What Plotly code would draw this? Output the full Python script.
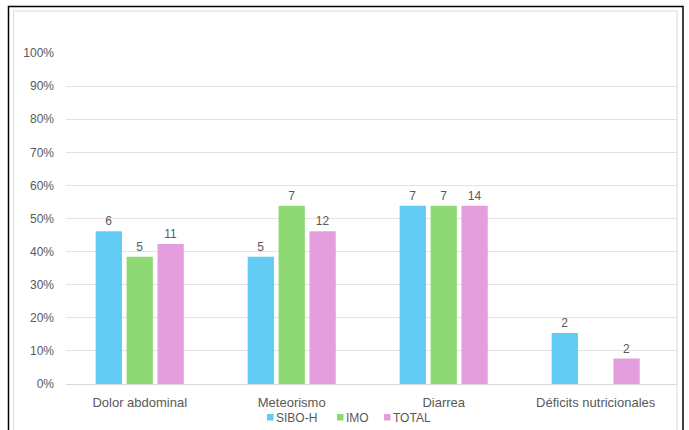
import plotly.graph_objects as go

# Symptoms and patient counts per group
categories = ["Dolor abdominal", "Meteorismo", "Diarrea", "Déficits nutricionales"]
groups = ["SIBO-H", "IMO", "TOTAL"]
group_sizes = [13, 13, 26]
sibo_counts = [6, 5, 7, 2]
imo_counts = [5, 7, 7, 0]
total_counts = [11, 12, 14, 2]
colors = ["#61CBF3", "#8ED973", "#E49EDD"]

y_ticks = [i / 10 for i in range(11)]
y_tick_labels = [f"{i * 10}%" for i in range(11)]

W, H = 689, 430
L, R, T, B = 66, 12, 53, 46
GREY = "#595959"

fig = go.Figure()
for name, counts, n, col in zip(groups, [sibo_counts, imo_counts, total_counts], group_sizes, colors):
    fig.add_trace(go.Bar(
        name=name,
        x=categories,
        y=[c / n for c in counts],
        text=[str(c) if c else "" for c in counts],
        textposition="outside",
        textfont=dict(size=12, color=GREY),
        cliponaxis=False,
        marker=dict(color=col, line=dict(width=0)),
        showlegend=False,
    ))

pw = W - L - R
ph = H - T - B


def px_x(x):
    return (x - L) / pw


def px_y(y):
    return (H - B - y) / ph


# Compact legend row below the category labels: small square key + series name
legend_key_x = [267, 337, 384]
legend_y = 417.5
shapes = []
annotations = []
for name, col, kx in zip(groups, colors, legend_key_x):
    shapes.append(dict(type="rect", xref="paper", yref="paper",
                       x0=px_x(kx), x1=px_x(kx + 6.5), y0=px_y(legend_y + 3), y1=px_y(legend_y - 3.5),
                       fillcolor=col, line=dict(width=0)))
    annotations.append(dict(text=name, xref="paper", yref="paper", x=px_x(kx + 7), y=px_y(legend_y),
                            xanchor="left", yanchor="middle", showarrow=False,
                            font=dict(size=12, color=GREY)))

# outer frame
shapes.append(dict(type="rect", xref="paper", yref="paper", x0=px_x(8.5), x1=px_x(683),
                   y0=px_y(440), y1=px_y(6.5), line=dict(color="#000000", width=1.5), layer="above"))
# inner chart-area border
shapes.append(dict(type="rect", xref="paper", yref="paper", x0=px_x(13.5), x1=px_x(677),
                   y0=px_y(440), y1=px_y(11), line=dict(color="#D9D9D9", width=1), layer="below"))

fig.update_layout(
    width=W, height=H,
    margin=dict(l=L, r=R, t=T, b=B, autoexpand=False),
    paper_bgcolor="white", plot_bgcolor="white",
    font=dict(family="Liberation Sans, Arial, sans-serif", color=GREY, size=11),
    barmode="group",
    bargap=0.39,
    bargroupgap=0.15,
    showlegend=False,
    xaxis=dict(range=[-0.485, 3.535], showgrid=False, showline=True, linecolor="#D9D9D9", linewidth=1,
               ticks="", tickfont=dict(size=13, color=GREY), ticklabelstandoff=6,
               automargin=False, fixedrange=True),
    yaxis=dict(range=[0, 1], tickvals=y_ticks, ticktext=y_tick_labels, showgrid=True,
               gridcolor="#E3E3E3", gridwidth=1, zeroline=False, showline=False, ticks="",
               tickfont=dict(size=12, color=GREY), ticklabelstandoff=11,
               automargin=False, fixedrange=True),
    shapes=shapes,
    annotations=annotations,
)

fig.write_html("out.html")
